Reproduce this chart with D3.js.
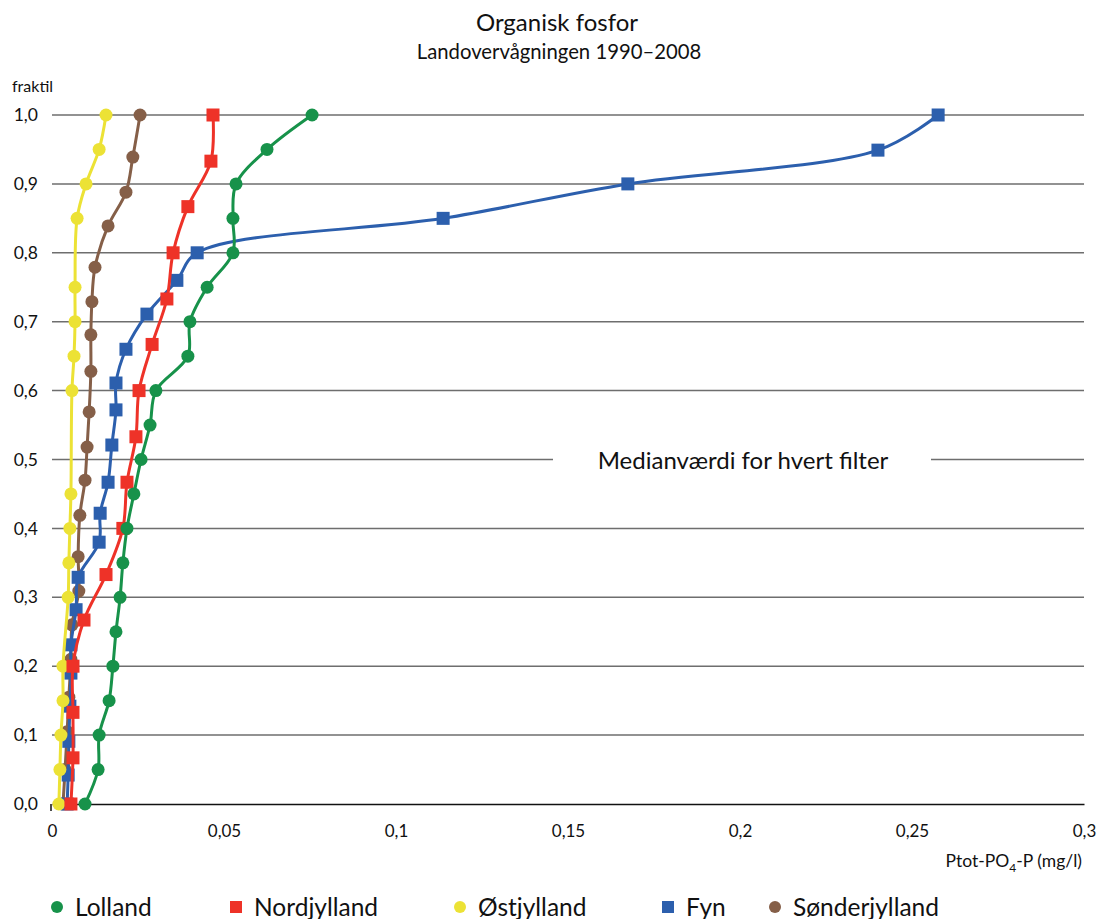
<!DOCTYPE html>
<html><head><meta charset="utf-8">
<script src="https://cdn.jsdelivr.net/npm/d3@7"></script>
<style>body{margin:0;background:#fff;} svg{display:block;} text{font-family:Lato,"Open Sans",sans-serif;fill:#111;}</style>
</head><body>
<svg id="c" width="1102" height="919"></svg>
<script>
// ---- data ----
const seriesNames = ["Lolland","Nordjylland","Østjylland","Fyn","Sønderjylland"];
const seriesColors = ["#17924a","#ee3228","#ece235","#2c5fad","#855f48"];
const seriesShapes = ["circle","square","circle","square","circle"];

const lollandFrac = [0,0.05,0.1,0.15,0.2,0.25,0.3,0.35,0.4,0.45,0.5,0.55,0.6,0.65,0.7,0.75,0.8,0.85,0.9,0.95,1.0];
const lollandVal  = [0.0096,0.0134,0.0137,0.0166,0.0177,0.0186,0.0198,0.0206,0.0218,0.0238,0.0259,0.0285,0.0302,0.0395,0.0401,0.0451,0.0526,0.0526,0.0535,0.0625,0.0756];

const nordFrac = [0,0.067,0.133,0.2,0.267,0.333,0.4,0.467,0.533,0.6,0.667,0.733,0.8,0.867,0.933,1.0];
const nordVal  = [0.0055,0.0061,0.0061,0.0061,0.0093,0.0157,0.0206,0.0218,0.0244,0.0253,0.0291,0.0334,0.0352,0.0395,0.0462,0.0468];

const ostFrac = [0,0.05,0.1,0.15,0.2,0.3,0.35,0.4,0.45,0.6,0.65,0.7,0.75,0.85,0.9,0.95,1.0];
const ostVal  = [0.0020,0.0023,0.0026,0.0032,0.0032,0.0047,0.0049,0.0052,0.0055,0.0058,0.0064,0.0067,0.0067,0.0073,0.0099,0.0137,0.0157];

const fynFrac = [0,0.042,0.091,0.142,0.19,0.231,0.282,0.329,0.38,0.422,0.467,0.521,0.572,0.611,0.66,0.711,0.76,0.8,0.85,0.9,0.949,1.0];
const fynVal  = [0.0044,0.0047,0.0049,0.0052,0.0055,0.0055,0.0070,0.0076,0.0137,0.0140,0.0163,0.0174,0.0186,0.0186,0.0215,0.0276,0.0363,0.0422,0.1137,0.1674,0.2401,0.2576];

const sonFrac = [0,0.05,0.105,0.155,0.21,0.26,0.309,0.359,0.419,0.47,0.518,0.569,0.628,0.681,0.729,0.779,0.839,0.888,0.939,1.0];
const sonVal  = [0.0032,0.0038,0.0044,0.0049,0.0055,0.0058,0.0078,0.0076,0.0081,0.0096,0.0102,0.0108,0.0113,0.0113,0.0116,0.0125,0.0163,0.0215,0.0235,0.0256];

const seriesFrac = [lollandFrac,nordFrac,ostFrac,fynFrac,sonFrac];
const seriesVal  = [lollandVal,nordVal,ostVal,fynVal,sonVal];

const xTicks = [0,0.05,0.1,0.15,0.2,0.25,0.3];
const xTickLabels = ["0","0,05","0,1","0,15","0,2","0,25","0,3"];
const yTicks = [0,0.1,0.2,0.3,0.4,0.5,0.6,0.7,0.8,0.9,1.0];
const yTickLabels = ["0,0","0,1","0,2","0,3","0,4","0,5","0,6","0,7","0,8","0,9","1,0"];

const title = "Organisk fosfor";
const subtitle = "Landovervågningen 1990–2008";
const yLabel = "fraktil";
const annotation = "Medianværdi for hvert filter";

// ---- layout ----
const svg = d3.select("#c");
const L = 52, R = 1084, T = 115, B = 804;
const x = d3.scaleLinear().domain([0,0.3]).range([L,R]);
const y = d3.scaleLinear().domain([0,1]).range([B,T]);

// titles
svg.append("text").attr("x",557).attr("y",31).attr("text-anchor","middle").style("font-size","24px").text(title);
svg.append("text").attr("x",559).attr("y",59).attr("text-anchor","middle").style("font-size","20.3px").text(subtitle);
svg.append("text").attr("x",12).attr("y",92).style("font-size","16px").text(yLabel);

// gridlines
svg.append("g").selectAll("line").data(yTicks.slice(1)).join("line")
  .attr("x1",L).attr("x2",R).attr("y1",d=>y(d)).attr("y2",d=>y(d))
  .attr("stroke","#6e6e6e").attr("stroke-width",1.5);

// x axis
const xAxis = d3.axisBottom(x).tickValues(xTicks).tickFormat((d,i)=>xTickLabels[i]).tickSize(0).tickPadding(21);
const gx = svg.append("g").attr("transform",`translate(0,${B})`).call(xAxis);
gx.select(".domain").attr("stroke","#111").attr("stroke-width",1.5);
gx.selectAll("text").style("font-size","17px").style("font-family","Lato,sans-serif").attr("fill","#111");
svg.append("line").attr("x1",L-1).attr("x2",L-1).attr("y1",B).attr("y2",B+7).attr("stroke","#111").attr("stroke-width",1.5);

// y axis labels
const yAxis = d3.axisLeft(y).tickValues(yTicks).tickFormat((d,i)=>yTickLabels[i]).tickSize(0).tickPadding(14);
const gy = svg.append("g").attr("transform",`translate(${L},0)`).call(yAxis);
gy.select(".domain").remove();
gy.selectAll("text").style("font-size","17.5px").style("font-family","Lato,sans-serif").attr("fill","#111");

// x-axis label
const xl = svg.append("text").attr("x",1082).attr("y",867).attr("text-anchor","end").style("font-size","17.5px");
xl.append("tspan").text("Ptot-PO");
xl.append("tspan").attr("dy",5).style("font-size","12px").text("4");
xl.append("tspan").attr("dy",-5).text("-P (mg/l)");

// annotation
const ann = svg.append("g");
ann.append("rect").attr("x",553).attr("y",y(0.5)-16).attr("width",378).attr("height",32).attr("fill","#fff");
ann.append("text").attr("x",743).attr("y",y(0.5)+9).attr("text-anchor","middle").style("font-size","24px").text(annotation);

// series
const line = d3.line().x(d=>x(d.v)).y(d=>y(d.f)).curve(d3.curveCatmullRom.alpha(0.5));
const drawOrder = [4,3,2,1,0];
drawOrder.forEach(i=>{
  const pts = seriesFrac[i].map((f,j)=>({f:f,v:seriesVal[i][j]}));
  const g = svg.append("g");
  g.append("path").datum(pts).attr("d",line).attr("fill","none").attr("stroke",seriesColors[i]).attr("stroke-width",3);
  if (seriesShapes[i]==="circle") {
    g.selectAll("circle").data(pts).join("circle").attr("cx",d=>x(d.v)).attr("cy",d=>y(d.f)).attr("r",6.5).attr("fill",seriesColors[i]);
  } else {
    g.selectAll("rect").data(pts).join("rect").attr("x",d=>x(d.v)-6.5).attr("y",d=>y(d.f)-6.5).attr("width",13).attr("height",13).attr("fill",seriesColors[i]);
  }
});

// legend
const legX = [57,236,460,668,775];
const leg = svg.append("g");
seriesNames.forEach((n,i)=>{
  const cx = legX[i], cy = 907;
  if (seriesShapes[i]==="circle") leg.append("circle").attr("cx",cx).attr("cy",cy).attr("r",6).attr("fill",seriesColors[i]);
  else leg.append("rect").attr("x",cx-6).attr("y",cy-6).attr("width",12).attr("height",12).attr("fill",seriesColors[i]);
  leg.append("text").attr("x",cx+18).attr("y",cy+8.5).style("font-size","24.5px").text(n);
});
</script>
</body></html>
